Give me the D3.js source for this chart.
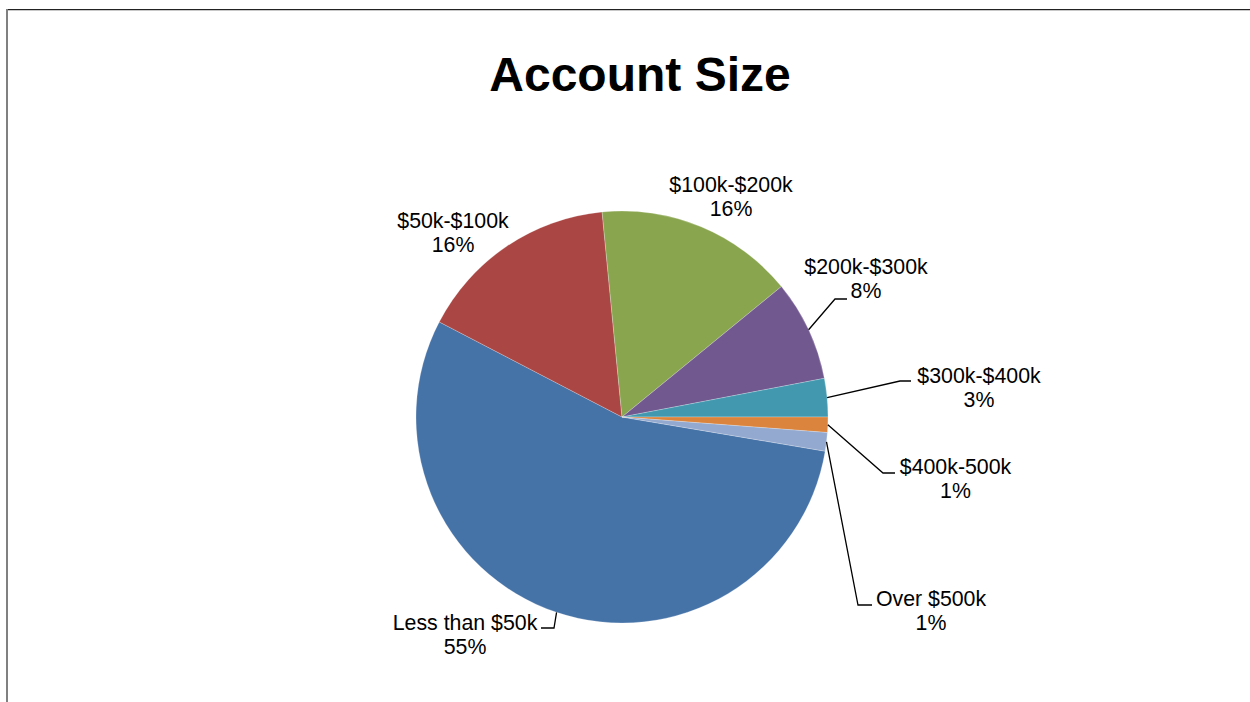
<!DOCTYPE html>
<html>
<head>
<meta charset="utf-8">
<script src="https://cdn.jsdelivr.net/npm/d3@7"></script>
<style>
  html, body { margin: 0; padding: 0; background: #fff; }
  svg { display: block; }
</style>
</head>
<body>
<svg id="chart" width="1250" height="702"></svg>
<script>
// ---- data ----
const title = "Account Size";
const categories = ["Less than $50k", "$50k-$100k", "$100k-$200k", "$200k-$300k", "$300k-$400k", "$400k-500k", "Over $500k"];
const values = [54.9, 15.8, 15.6, 7.9, 3.0, 1.2, 1.45];
const pctLabels = ["55%", "16%", "16%", "8%", "3%", "1%", "1%"];
const colors = ["#4572A7", "#AA4643", "#89A54E", "#71588F", "#4198AF", "#DB843D", "#93A9CF"];

// ---- layout (label placement relative to pie centre, px) ----
const labelOffsets = [[-157, 213], [-169, -189], [109, -225], [244, -143], [357, -34], [333.5, 57], [309, 189]];
// leader lines: [elbow, end] relative to pie centre; null = no leader
const leaderPts = [
  [[-68, 211], [-81, 211]],
  null,
  null,
  [[213, -118], [225, -118]],
  [[278, -36], [289, -36]],
  [[261, 56], [273, 56]],
  [[236, 188], [250, 188]]
];

const W = 1250, H = 702;
const cx = 622, cy = 417, R = 206;
const svg = d3.select("#chart");

// frame
svg.append("line").attr("x1", 6).attr("x2", W).attr("y1", 9.5).attr("y2", 9.5)
  .attr("stroke", "#222").attr("stroke-width", 1);
svg.append("line").attr("x1", 8).attr("x2", W).attr("y1", 10.5).attr("y2", 10.5)
  .attr("stroke", "#c8c8c8").attr("stroke-width", 1);
svg.append("line").attr("x1", 7).attr("x2", 7).attr("y1", 9).attr("y2", H)
  .attr("stroke", "#808080").attr("stroke-width", 2);

// title
svg.append("text")
  .attr("x", 640).attr("y", 91)
  .attr("text-anchor", "middle")
  .style("font-family", "'Liberation Sans', Arial, sans-serif")
  .style("font-weight", "bold")
  .style("font-size", "48px")
  .attr("fill", "#000")
  .text(title);

// pie
const data = categories.map((c, i) => ({ name: c, value: values[i], pct: pctLabels[i], i }));
const total = d3.sum(values);
const cumBeforeSplit = d3.sum(values.slice(0, 5)); // $300k-$400k ends at 3 o'clock
const startAngle = Math.PI / 2 - (cumBeforeSplit / total) * 2 * Math.PI + 2 * Math.PI;

const pie = d3.pie().sort(null).value(d => d.value)
  .startAngle(startAngle).endAngle(startAngle + 2 * Math.PI);
const arcs = pie(data);
const arc = d3.arc().innerRadius(0).outerRadius(R);

const g = svg.append("g").attr("transform", `translate(${cx},${cy})`);
g.selectAll("path.slice").data(arcs).enter().append("path")
  .attr("class", "slice")
  .attr("d", arc)
  .attr("fill", d => colors[d.data.i])
  .attr("stroke", "#ffffff")
  .attr("stroke-opacity", 0.6)
  .attr("stroke-width", 0.4)
  .attr("stroke-linejoin", "round");

// leader lines
arcs.forEach(d => {
  const lp = leaderPts[d.data.i];
  if (!lp) return;
  const mid = (d.startAngle + d.endAngle) / 2;
  const sx = R * Math.sin(mid), sy = -R * Math.cos(mid);
  g.append("path")
    .attr("d", d3.line()([[sx, sy], lp[0], lp[1]]))
    .attr("fill", "none")
    .attr("stroke", "#000")
    .attr("stroke-width", 1.3);
});

// labels
const lbl = g.selectAll("text.lbl").data(arcs).enter().append("text")
  .attr("class", "lbl")
  .attr("text-anchor", "middle")
  .style("font-family", "'Liberation Sans', Arial, sans-serif")
  .style("font-size", "21.33px")
  .attr("fill", "#000")
  .attr("transform", d => `translate(${labelOffsets[d.data.i][0]},${labelOffsets[d.data.i][1]})`);
lbl.append("tspan").attr("x", 0).attr("y", 0).text(d => d.data.name);
lbl.append("tspan").attr("x", 0).attr("y", 24).text(d => d.data.pct);
</script>
</body>
</html>
